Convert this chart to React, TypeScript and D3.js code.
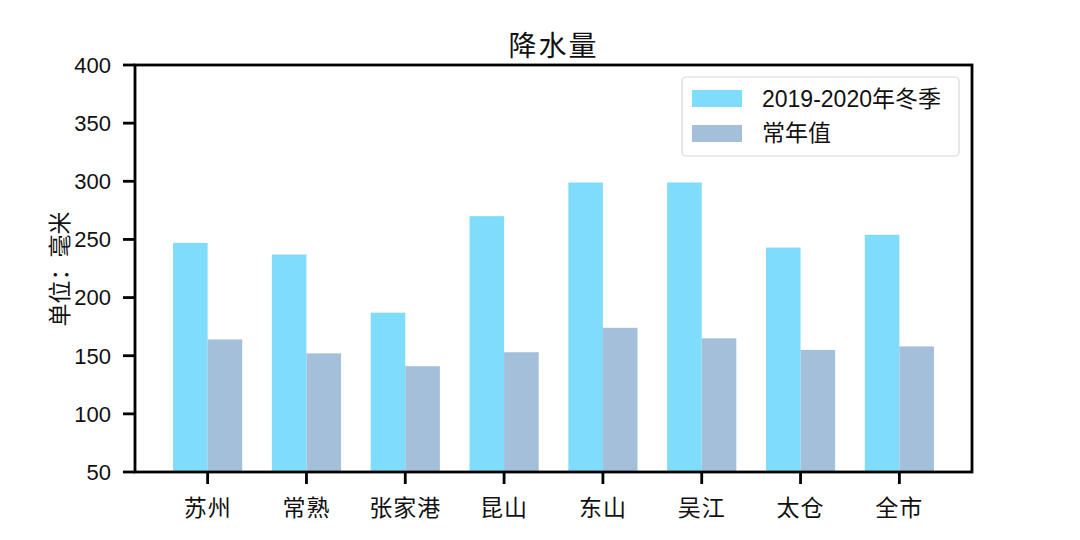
import React from "react";
import * as d3 from "d3";

const categories = ["苏州", "常熟", "张家港", "昆山", "东山", "吴江", "太仓", "全市"];
const winter = [247, 237, 187, 270, 299, 299, 243, 254];
const normal = [164, 152, 141, 153, 174, 165, 155, 158];
const yTicks = [50, 100, 150, 200, 250, 300, 350, 400];
const seriesNames = ["2019-2020年冬季", "常年值"];
const colors = ["#7fdcfb", "#a3bfd9"];

const W = 1080, H = 540;
const L = 135, R = 972, T = 65, B = 472;
const FONT = "'Liberation Sans', 'Noto Sans CJK SC', sans-serif";

export default function App() {
  const barW = 0.35;
  const x = d3.scaleLinear().domain([-0.35 - 0.385, 7.35 + 0.385]).range([L, R]);
  const y = d3.scaleLinear().domain([50, 400]).range([B, T]);
  const bw = x(barW) - x(0);
  const TL = 12;
  return (
    <svg width={W} height={H} style={{ position: "absolute", left: 0, top: 0, background: "#fff" }} fontFamily={FONT} fill="#111">
      <rect x={0} y={0} width={W} height={H} fill="#fff" />
      {categories.map((c, i) => (
        <g key={c}>
          <rect x={x(i - barW)} y={y(winter[i])} width={bw} height={y(50) - y(winter[i])} fill={colors[0]} />
          <rect x={x(i)} y={y(normal[i])} width={bw} height={y(50) - y(normal[i])} fill={colors[1]} />
        </g>
      ))}
      <rect x={L} y={T} width={R - L} height={B - T} fill="none" stroke="#000" strokeWidth={2.8} />
      {yTicks.map((t) => (
        <g key={t}>
          <line x1={L - TL} x2={L} y1={y(t)} y2={y(t)} stroke="#000" strokeWidth={2.8} />
          <text x={L - TL - 12} y={y(t)} dy="0.36em" textAnchor="end" fontSize={22}>{t}</text>
        </g>
      ))}
      {categories.map((c, i) => (
        <g key={c}>
          <line x1={x(i)} x2={x(i)} y1={B} y2={B + TL} stroke="#000" strokeWidth={2.8} />
          <text x={x(i)} y={507.5} dy="0.36em" textAnchor="middle" fontSize={23} letterSpacing={1}>{c}</text>
        </g>
      ))}
      <text x={(L + R) / 2} y={46} dy="0.36em" textAnchor="middle" fontSize={28} letterSpacing={2}>降水量</text>
      <text transform={`translate(60,${269}) rotate(-90)`} dy="0.36em" textAnchor="middle" fontSize={23}>单位：毫米</text>
      <rect x={682} y={77} width={277} height={79} rx={4} fill="#fff" stroke="#d8d8d8" strokeWidth={1.2} />
      {seriesNames.map((s, i) => (
        <g key={s}>
          <rect x={692} y={90 + i * 35} width={50} height={17} fill={colors[i]} />
          <text x={762} y={99 + i * 34} dy="0.36em" fontSize={23}>{s}</text>
        </g>
      ))}
    </svg>
  );
}
